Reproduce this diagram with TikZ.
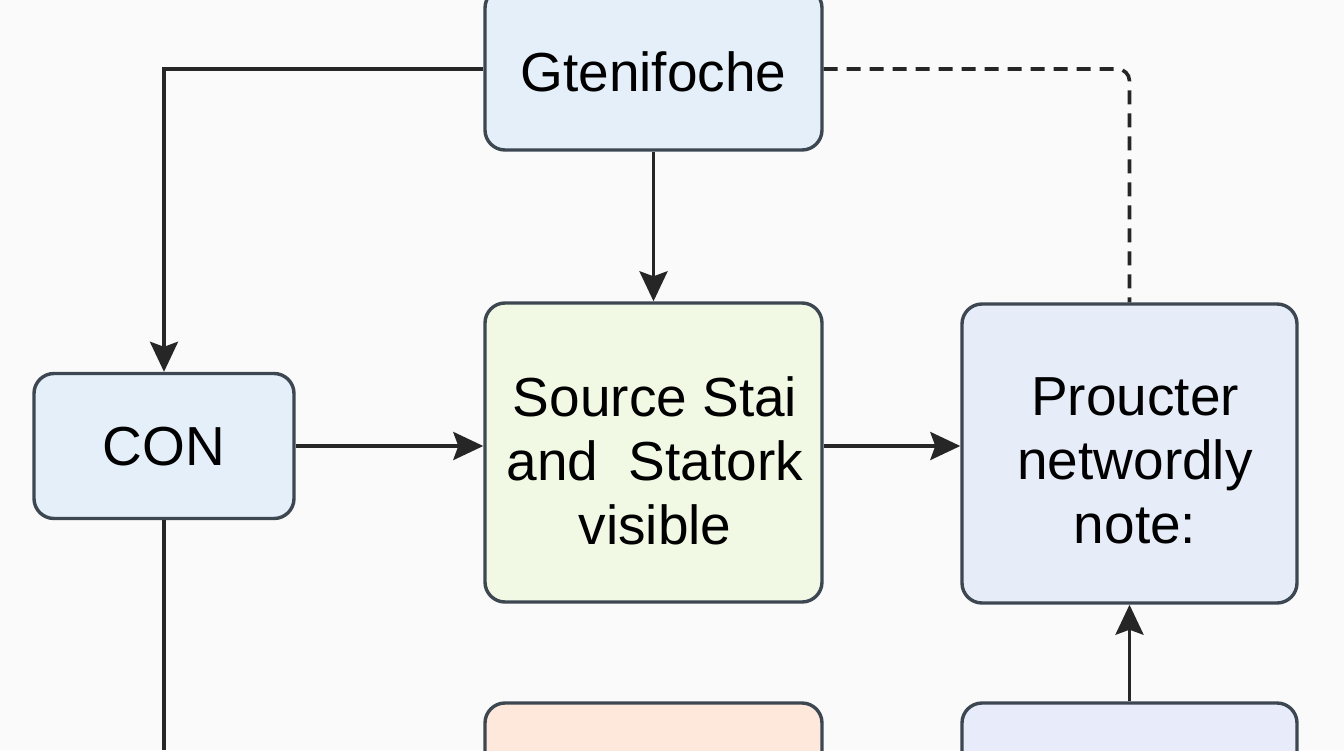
\documentclass[tikz,border=0pt]{standalone}
\usepackage{fontspec}
\setmainfont{Liberation Sans}
\usetikzlibrary{arrows.meta}
\definecolor{bgc}{HTML}{FAFAFA}
\definecolor{edgec}{HTML}{3C4752}
\definecolor{linec}{HTML}{262626}
\definecolor{fillG}{HTML}{E4EFF9}
\definecolor{fillS}{HTML}{F1F8E4}
\definecolor{fillP}{HTML}{E6EDF9}
\definecolor{fillO}{HTML}{FDE8DB}
\definecolor{fillL}{HTML}{E8ECFA}
\tikzset{
  box/.style={draw=edgec, line width=3.4pt, rounded corners=20pt, inner sep=0pt},
  lbl/.style={font=\fontsize{55}{64}\selectfont, align=center, text=black, inner sep=0pt},
  arr/.style={draw=linec, line width=3.6pt, -{Stealth[length=30pt,width=28pt,inset=5pt]}},
  conn/.style={draw=linec, line width=3.6pt},
  dconn/.style={draw=linec, line width=3.6pt, dash pattern=on 14pt off 9pt, rounded corners=12pt}
}
\begin{document}
\begin{tikzpicture}[x=1pt,y=-1pt]
\useasboundingbox (0,0) rectangle (1344,750);
\fill[bgc] (0,0) rectangle (1344,750);
% boxes
\node[box, fill=fillG, minimum width=337pt, minimum height=162pt] (G) at (653.5,69) {};
\node[box, fill=fillS, minimum width=337pt, minimum height=299pt] (S) at (653.5,452.5) {};
\node[box, fill=fillP, minimum width=335pt, minimum height=299pt] (P) at (1129.5,453.5) {};
\node[box, fill=fillG, minimum width=260pt, minimum height=145pt] (C) at (164,446) {};
\node[box, fill=fillO, minimum width=337pt, minimum height=130pt] (O) at (653.5,768) {};
\node[box, fill=fillL, minimum width=335pt, minimum height=130pt] (L) at (1129.5,768) {};
% labels
\node[lbl] (Gt) at (653.5,72) {Gtenifoche};
\node[lbl] (Ct) at (164,447) {CON};
\node[lbl] (St) at (655,461) {Source Stai\\and\ \ Statork\\visible};
\node[lbl] (Pt) at (1135,461) {Proucter\\networdly\\note:};
% connectors
\coordinate (Cend) at (164,750);
\draw[arr] (G.west) -| (C.north);
\draw[arr] (G.south) -- (S.north);
\draw[arr] (C.east) -- (C.east -| S.west);
\draw[arr] (S.east |- C.east) -- (P.west |- C.east);
\draw[dconn] (G.east) -| (P.north);
\draw[arr] (L.north) -- (P.south);
\draw[conn] (C.south) -- (Cend);
\end{tikzpicture}
\end{document}
